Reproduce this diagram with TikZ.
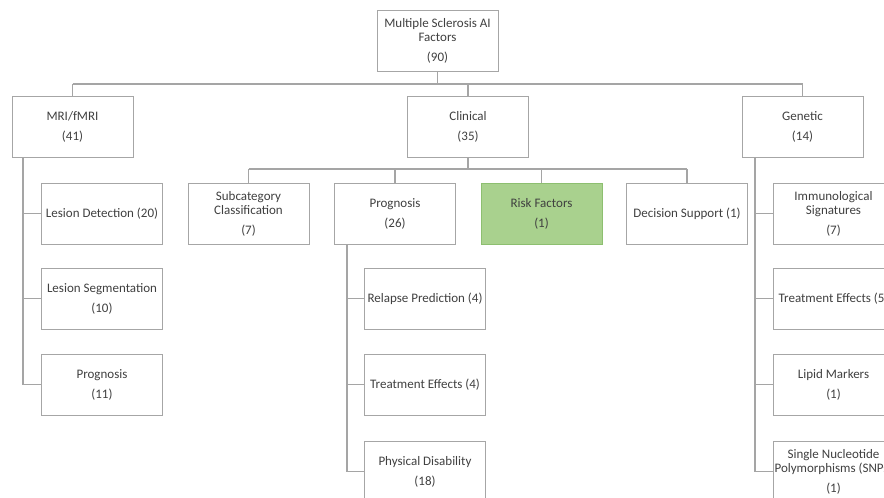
\documentclass[tikz,border=0pt]{standalone}
\usepackage{fontspec}
\setmainfont{Carlito}
\definecolor{boxgray}{HTML}{A6A6A6}
\definecolor{linegray}{HTML}{A5A5A5}
\definecolor{textgray}{HTML}{404040}
\definecolor{riskgreen}{HTML}{A9D18E}
\definecolor{riskedge}{HTML}{8DBF70}
\begin{document}
\begin{tikzpicture}[x=1pt,y=-1pt,
  box/.style={draw=boxgray, line width=0.9pt, fill=white,
    minimum width=121pt, minimum height=61pt, inner sep=0pt,
    align=center, text=textgray, font=\fontsize{13}{14}\selectfont},
  riskbox/.style={box, fill=riskgreen, draw=riskedge},
  link/.style={draw=linegray, line width=1.1pt}]

\useasboundingbox (0,0) rectangle (884,498);
\clip (0,0) rectangle (884,498);
\fill[white] (0,0) rectangle (884,498);

% top level
\node[box] (root) at (437.5,40.5) {Multiple Sclerosis AI\\Factors\\[6pt](90)};

% main branches
\node[box] (mri)  at (72.5,126.5)  {MRI/fMRI\\[6pt](41)};
\node[box] (clin) at (468,126.5)   {Clinical\\[6pt](35)};
\node[box] (gen)  at (802.5,126.5) {Genetic\\[6pt](14)};

% MRI/fMRI children
\node[box] (ldet) at (102,213.5) {Lesion Detection (20)};
\node[box] (lseg) at (102,298.5) {Lesion Segmentation\\[6pt](10)};
\node[box] (mprog) at (102,384.5) {Prognosis\\[6pt](11)};

% clinical children
\node[box] (sub)  at (248.5,213.5) {Subcategory\\Classification\\[6pt](7)};
\node[box] (prog) at (395,213.5)   {Prognosis\\[6pt](26)};
\node[riskbox] (risk) at (541.5,213.5) {Risk Factors\\[6pt](1)};
\node[box] (dec)  at (687,213.5)   {Decision Support (1)};

% clinical prognosis children
\node[box] (relapse) at (425,298.5) {Relapse Prediction (4)};
\node[box] (ctreat)  at (425,384.5) {Treatment Effects (4)};
\node[box] (phys)    at (425,471.5) {Physical Disability\\[6pt](18)};

% genetic children
\node[box] (imm)    at (833.5,213.5) {Immunological\\Signatures\\[6pt](7)};
\node[box] (gtreat) at (833.5,298.5) {Treatment Effects (5)};
\node[box] (lipid)  at (833.5,384.5) {Lipid Markers\\[6pt](1)};
\node[box] (snp)    at (833.5,471.5) {Single Nucleotide\\Polymorphisms (SNPs)\\[6pt](1)};

% level 1 bus
\coordinate (bus1) at (0,84);
\draw[link] (root.south) -- (root.south |- bus1);
\draw[link] (mri.north |- bus1) -- (gen.north |- bus1);
\foreach \n in {mri,clin,gen}
  \draw[link] (\n.north |- bus1) -- (\n.north);

% level 2 bus
\coordinate (bus2) at (0,169);
\draw[link] (clin.south) -- (clin.south |- bus2);
\draw[link] (sub.north |- bus2) -- (dec.north |- bus2);
\foreach \n in {sub,prog,risk,dec}
  \draw[link] (\n.north |- bus2) -- (\n.north);

% side spines
\coordinate (mspine) at (23,0);
\draw[link] (mspine |- mri.south) -- (mspine |- mprog.west);
\foreach \n in {ldet,lseg,mprog}
  \draw[link] (mspine |- \n.west) -- (\n.west);

\coordinate (pspine) at (347,0);
\draw[link] (pspine |- prog.south) -- (pspine |- phys.west);
\foreach \n in {relapse,ctreat,phys}
  \draw[link] (pspine |- \n.west) -- (\n.west);

\coordinate (gspine) at (755,0);
\draw[link] (gspine |- gen.south) -- (gspine |- snp.west);
\foreach \n in {imm,gtreat,lipid,snp}
  \draw[link] (gspine |- \n.west) -- (\n.west);
\end{tikzpicture}
\end{document}
